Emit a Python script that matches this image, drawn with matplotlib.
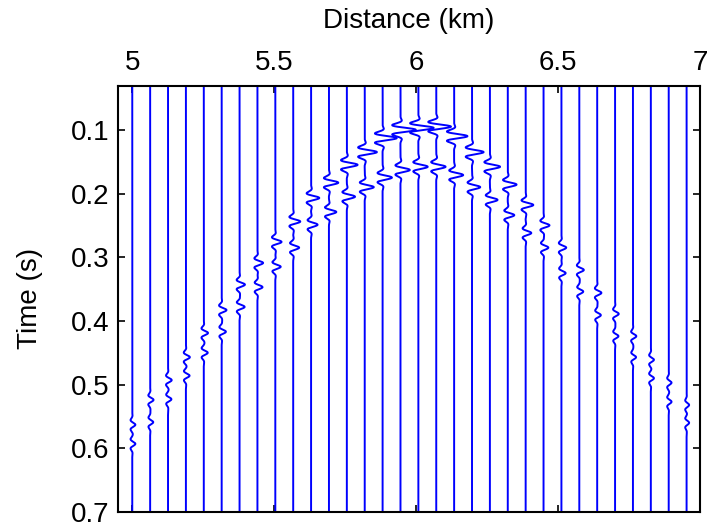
import numpy as np
import matplotlib
matplotlib.use("Agg")
import matplotlib.pyplot as plt

plt.rcParams['font.family'] = ['Liberation Sans', 'DejaVu Sans']

# trace positions (km)
offsets = [5.000, 5.063, 5.126, 5.189, 5.252, 5.315, 5.378, 5.441, 5.504, 5.567,
           5.630, 5.693, 5.756, 5.819, 5.882, 5.945, 6.008, 6.071, 6.134, 6.197,
           6.260, 6.323, 6.386, 6.449, 6.512, 6.575, 6.638, 6.701, 6.764, 6.827,
           6.890, 6.953]

# arrival times of the two events on each trace (s)
t_first = [0.563, 0.524, 0.493, 0.457, 0.419, 0.383, 0.343, 0.309, 0.276, 0.244,
           0.207, 0.183, 0.155, 0.135, 0.113, 0.100, 0.097, 0.095, 0.110, 0.135,
           0.158, 0.186, 0.218, 0.250, 0.285, 0.320, 0.356, 0.389, 0.424, 0.461,
           0.497, 0.532]
t_second = [0.593, 0.559, 0.523, 0.486, 0.450, 0.417, 0.378, 0.347, 0.315, 0.285,
            0.249, 0.229, 0.205, 0.190, 0.175, 0.163, 0.158, 0.158, 0.171, 0.190,
            0.210, 0.234, 0.262, 0.285, 0.325, 0.354, 0.391, 0.424, 0.457, 0.490,
            0.527, 0.560]

# wiggle amplitudes (km of deflection)
amp_first = [0.011, 0.012, 0.013, 0.014, 0.015, 0.017, 0.019, 0.020, 0.022, 0.025,
             0.029, 0.033, 0.038, 0.043, 0.050, 0.054, 0.054, 0.052, 0.047, 0.041,
             0.036, 0.031, 0.027, 0.021, 0.017, 0.016, 0.015, 0.013, 0.012, 0.011,
             0.010, 0.009]
amp_second = [0.011, 0.011, 0.012, 0.013, 0.014, 0.015, 0.018, 0.018, 0.019, 0.021,
              0.023, 0.026, 0.029, 0.032, 0.033, 0.033, 0.033, 0.033, 0.032, 0.029,
              0.027, 0.023, 0.020, 0.017, 0.015, 0.014, 0.013, 0.012, 0.011, 0.011,
              0.010, 0.009]

x_ticks = [5, 5.5, 6, 6.5, 7]
x_ticklabels = ['5', '5.5', '6', '6.5', '7']
y_ticks = [0.1, 0.2, 0.3, 0.4, 0.5, 0.6, 0.7]
y_ticklabels = ['0.1', '0.2', '0.3', '0.4', '0.5', '0.6', '0.7']


def wavelet(tau, f=60.0, sigma=0.010):
    return np.cos(2 * np.pi * f * tau) * np.exp(-(tau / sigma) ** 2)


t = np.arange(0.0, 0.75, 0.0004)

fig = plt.figure(figsize=(7.07, 5.30), dpi=100)
ax = fig.add_axes([0.167, 0.034, 0.823, 0.804])

for x0, ta, tb, aa, ab in zip(offsets, t_first, t_second, amp_first, amp_second):
    trace = x0 + aa * wavelet(t - ta) + ab * wavelet(t - tb)
    ax.plot(trace, t, color='#0000ff', lw=1.4)

ax.set_xlim(4.95, 7.0)
ax.set_ylim(0.7, 0.031)

ax.xaxis.tick_top()
ax.xaxis.set_label_position('top')
ax.set_xticks(x_ticks)
ax.set_xticklabels(x_ticklabels)
ax.set_yticks(y_ticks)
ax.set_yticklabels(y_ticklabels)
ax.tick_params(axis='both', direction='in', length=5, width=1.2, labelsize=20,
               top=True, bottom=True, left=True, right=True)
ax.tick_params(axis='x', pad=7)
ax.tick_params(axis='y', pad=6)
ax.set_xlabel('Distance (km)', fontsize=20, labelpad=16)
ax.set_ylabel('Time (s)', fontsize=20, labelpad=20)
for sp in ax.spines.values():
    sp.set_linewidth(1.5)

fig.savefig('out.png', dpi=100)
